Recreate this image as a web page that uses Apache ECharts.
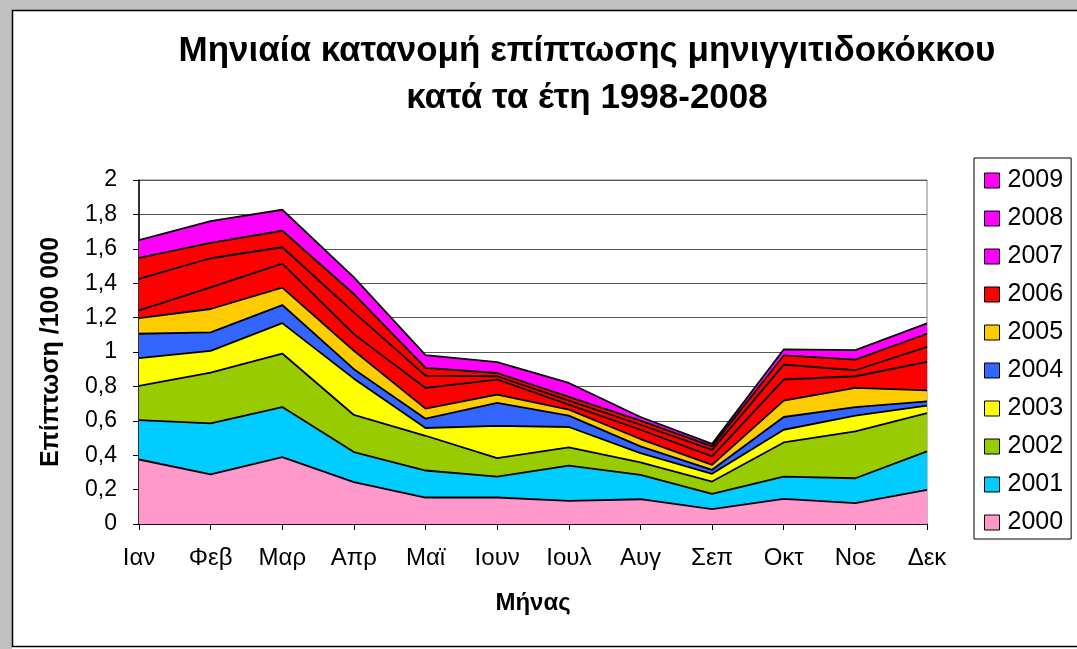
<!DOCTYPE html>
<html>
<head>
<meta charset="utf-8">
<script src="https://cdn.jsdelivr.net/npm/echarts@6/dist/echarts.min.js"></script>
<style>
html, body { margin: 0; padding: 0; background: #fff; }
#chart { width: 1077px; height: 649px; }
</style>
</head>
<body>
<div id="chart"></div>
<script>
var months = ['Ιαν', 'Φεβ', 'Μαρ', 'Απρ', 'Μαϊ', 'Ιουν', 'Ιουλ', 'Αυγ', 'Σεπ', 'Οκτ', 'Νοε', 'Δεκ'];
var years = ['2000', '2001', '2002', '2003', '2004', '2005', '2006', '2007', '2008', '2009'];

// επίπτωση ανά έτος (στοιβαγμένες περιοχές)
var y2000 = [0.375, 0.288, 0.389, 0.243, 0.154, 0.154, 0.134, 0.144, 0.087, 0.146, 0.121, 0.198];
var y2001 = [0.229, 0.297, 0.291, 0.175, 0.157, 0.122, 0.206, 0.142, 0.088, 0.130, 0.145, 0.224];
var y2002 = [0.199, 0.295, 0.311, 0.216, 0.202, 0.107, 0.105, 0.072, 0.072, 0.198, 0.272, 0.223];
var y2003 = [0.161, 0.127, 0.177, 0.211, 0.045, 0.188, 0.119, 0.054, 0.045, 0.074, 0.092, 0.043];
var y2004 = [0.142, 0.107, 0.105, 0.055, 0.054, 0.133, 0.066, 0.039, 0.023, 0.074, 0.050, 0.025];
var y2005 = [0.091, 0.136, 0.101, 0.107, 0.059, 0.048, 0.035, 0.043, 0.029, 0.095, 0.111, 0.064];
var y2006 = [0.045, 0.126, 0.140, 0.097, 0.120, 0.088, 0.029, 0.054, 0.049, 0.123, 0.068, 0.166];
var y2007 = [0.183, 0.169, 0.095, 0.126, 0.072, 0.019, 0.023, 0.029, 0.038, 0.087, 0.035, 0.087];
var y2008 = [0.122, 0.090, 0.096, 0.107, 0.045, 0.019, 0.022, 0.024, 0.020, 0.053, 0.062, 0.076];
var y2009 = [0.103, 0.126, 0.122, 0.097, 0.074, 0.063, 0.081, 0.021, 0.015, 0.035, 0.055, 0.060];
var yTicks = [0, 0.2, 0.4, 0.6, 0.8, 1, 1.2, 1.4, 1.6, 1.8, 2];

var values = [y2000, y2001, y2002, y2003, y2004, y2005, y2006, y2007, y2008, y2009];
var colors = ['#ff99cc', '#00ccff', '#99cc00', '#ffff00', '#3366ff', '#ffcc00', '#ff0000', '#ff0000', '#ff0000', '#ff00ff'];
// στο υπόμνημα τα 2007 και 2008 φαίνονται ματζέντα
var legendColors = ['#ff99cc', '#00ccff', '#99cc00', '#ffff00', '#3366ff', '#ffcc00', '#ff0000', '#ff00ff', '#ff00ff', '#ff00ff'];

var font = "'Liberation Sans', Arial, sans-serif";

function buildSeries() {
    var list = [];
    for (var i = 0; i < years.length; i++) {
        list.push({
            name: years[i],
            type: 'line',
            stack: 'total',
            data: values[i],
            showSymbol: false,
            symbol: 'none',
            itemStyle: { color: colors[i] },
            lineStyle: { color: '#000', width: 1.8 },
            areaStyle: { color: colors[i], opacity: 1 }
        });
    }
    return list;
}

function buildLegend() {
    var data = [];
    for (var i = years.length - 1; i >= 0; i--) {
        data.push({ name: years[i], itemStyle: { color: legendColors[i] } });
    }
    return data;
}

var myChart = echarts.init(document.getElementById('chart'));
var option = {
    animation: false,
    backgroundColor: '#fff',
    textStyle: { fontFamily: font },
    title: {
        text: 'Μηνιαία κατανομή επίπτωσης μηνιγγιτιδοκόκκου\nκατά τα έτη 1998-2008',
        left: 582,
        top: 23,
        textAlign: 'center',
        textStyle: { fontFamily: font, fontSize: 35, fontWeight: 'bold', color: '#000', lineHeight: 47 }
    },
    legend: {
        orient: 'vertical',
        left: 974,
        top: 158,
        padding: [10, 8, 4, 10],
        itemGap: 13,
        itemWidth: 15,
        itemHeight: 15,
        icon: 'rect',
        itemStyle: { borderColor: '#000', borderWidth: 1 },
        borderColor: '#000',
        borderWidth: 1,
        textStyle: { fontFamily: font, fontSize: 25, color: '#000', padding: [0, 0, 0, 3] },
        data: buildLegend()
    },
    grid: {
        left: 139,
        right: 150,
        top: 180,
        bottom: 125,
        show: true,
        borderColor: '#808080',
        borderWidth: 1
    },
    xAxis: {
        type: 'category',
        data: months,
        boundaryGap: false,
        name: 'Μήνας',
        nameLocation: 'middle',
        nameGap: 67,
        nameTextStyle: { fontFamily: font, fontSize: 24, fontWeight: 'bold', color: '#000' },
        axisLine: { lineStyle: { color: '#000', width: 1.5 } },
        axisTick: { show: true, length: 6, lineStyle: { color: '#000' } },
        axisLabel: { fontFamily: font, fontSize: 24, color: '#000', margin: 22 },
        splitLine: { show: false }
    },
    yAxis: {
        type: 'value',
        min: yTicks[0],
        max: yTicks[yTicks.length - 1],
        interval: 0.2,
        name: 'Επίπτωση /100 000',
        nameLocation: 'middle',
        nameRotate: 90,
        nameGap: 75,
        nameTextStyle: { fontFamily: font, fontSize: 25, fontWeight: 'bold', color: '#000' },
        axisLine: { show: true, lineStyle: { color: '#000', width: 1.5 } },
        axisTick: { show: true, length: 6, lineStyle: { color: '#000' } },
        axisLabel: {
            fontFamily: font,
            fontSize: 23,
            color: '#000',
            margin: 22,
            formatter: function (v) {
                return String(Math.round(v * 10) / 10).replace('.', ',');
            }
        },
        splitLine: { show: true, lineStyle: { color: '#555', width: 1 } }
    },
    graphic: [
        // γκρι περιθώριο πάνω και αριστερά, όπως στο Excel
        { type: 'rect', shape: { x: 0, y: 0, width: 1077, height: 10 }, style: { fill: '#c0c0c0' }, z: 100 },
        { type: 'rect', shape: { x: 0, y: 0, width: 12, height: 649 }, style: { fill: '#c0c0c0' }, z: 100 },
        { type: 'polyline', shape: { points: [[1077, 10.5], [12.5, 10.5], [12.5, 646.5], [1077, 646.5]] }, style: { stroke: '#000', lineWidth: 1.5, fill: null }, z: 101 }
    ],
    series: buildSeries()
};
myChart.setOption(option);
</script>
</body>
</html>
